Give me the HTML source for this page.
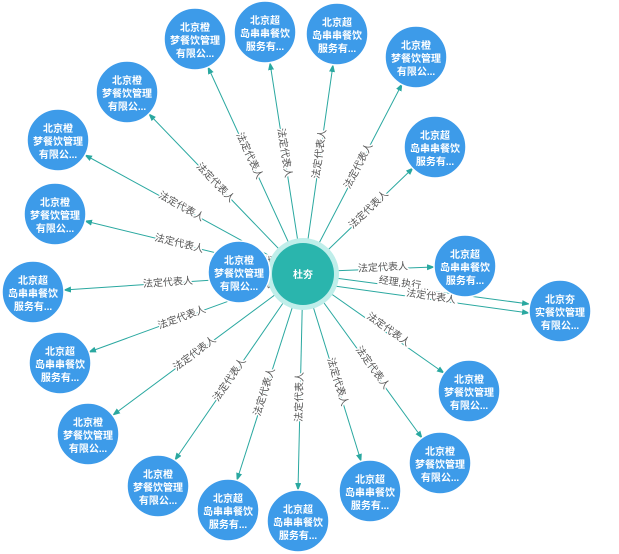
<!DOCTYPE html>
<html><head><meta charset="utf-8"><style>
html,body{margin:0;padding:0;background:#fff;}
svg{display:block;font-family:"Liberation Sans","Noto Sans CJK SC",sans-serif;}
.e{stroke:#2aa8a0;stroke-width:1;fill:none;marker-end:url(#a);}
.l{font-size:10px;fill:#555;text-anchor:middle;dominant-baseline:central;stroke:#fff;stroke-width:3px;paint-order:stroke;}
.n{fill:#3d9be9;stroke:#fff;stroke-width:1.5;}
.t{font-size:10px;fill:#fff;text-anchor:middle;font-weight:bold;}
</style></head><body>
<svg width="619" height="554" viewBox="0 0 619 554">
<defs><marker id="a" markerWidth="8" markerHeight="6" refX="7" refY="3" orient="auto" markerUnits="userSpaceOnUse"><path d="M0,0 L8,3 L0,6 z" fill="#2aa8a0"/></marker></defs>
<g>
<line class="e" x1="303" y1="274" x2="208" y2="67"/>
<line class="e" x1="303" y1="274" x2="270" y2="63"/>
<line class="e" x1="303" y1="274" x2="333" y2="65"/>
<line class="e" x1="303" y1="274" x2="402" y2="84"/>
<line class="e" x1="303" y1="274" x2="149" y2="114"/>
<line class="e" x1="303" y1="274" x2="85" y2="155"/>
<line class="e" x1="303" y1="274" x2="413" y2="168"/>
<line class="e" x1="303" y1="274" x2="85" y2="221"/>
<line class="e" x1="303" y1="272" x2="434" y2="267"/>
<line class="e" x1="303" y1="274" x2="64" y2="290"/>
<line class="e" x1="320" y1="276" x2="529" y2="304"/>
<line class="e" x1="320" y1="284" x2="529" y2="313"/>
<line class="e" x1="303" y1="274" x2="89" y2="352"/>
<line class="e" x1="303" y1="274" x2="444" y2="373"/>
<line class="e" x1="303" y1="274" x2="113" y2="415"/>
<line class="e" x1="303" y1="274" x2="422" y2="438"/>
<line class="e" x1="303" y1="274" x2="175" y2="460"/>
<line class="e" x1="303" y1="274" x2="361" y2="461"/>
<line class="e" x1="303" y1="274" x2="237" y2="480"/>
<line class="e" x1="303" y1="274" x2="298" y2="490"/>
</g>
<g>
<text class="l" transform="translate(249,156) rotate(65.3)">法定代表人</text>
<text class="l" transform="translate(284,153) rotate(81.1)">法定代表人</text>
<text class="l" transform="translate(320,154) rotate(-81.9)">法定代表人</text>
<text class="l" transform="translate(359,166) rotate(-62.5)">法定代表人</text>
<text class="l" transform="translate(215,183) rotate(46)">法定代表人</text>
<text class="l" transform="translate(181,207) rotate(28.7)">法定代表人</text>
<text class="l" transform="translate(369,210) rotate(-43.9)">法定代表人</text>
<text class="l" transform="translate(179,244) rotate(13.6)">法定代表人</text>
<text class="l" transform="translate(383,268) rotate(-2.8)">法定代表人</text>
<text class="l" transform="translate(168,283) rotate(-3.8)">法定代表人</text>
<text class="l" transform="translate(404,284) rotate(8.2)">经理,执行...</text>
<text class="l" transform="translate(431,297) rotate(8.2)">法定代表人</text>
<text class="l" transform="translate(182,318) rotate(-20.1)">法定代表人</text>
<text class="l" transform="translate(388,330) rotate(35.2)">法定代表人</text>
<text class="l" transform="translate(195,354) rotate(-36.7)">法定代表人</text>
<text class="l" transform="translate(372,368) rotate(54.1)">法定代表人</text>
<text class="l" transform="translate(230,380) rotate(-55.6)">法定代表人</text>
<text class="l" transform="translate(337,382) rotate(72.8)">法定代表人</text>
<text class="l" transform="translate(265,392) rotate(-72.4)">法定代表人</text>
<text class="l" transform="translate(300,397) rotate(-88.8)">法定代表人</text>
<text class="l" transform="translate(268,262)">代</text>
<text class="l" transform="translate(270,285)">执行</text>
</g>
<g>
<circle cx="303" cy="274" r="36" fill="#bfeeea"/>
<circle cx="303" cy="274" r="31" fill="#2ab5ad"/>
<text class="t" x="303" y="278">杜夯</text>
</g>
<g>
<g transform="translate(195,39)"><circle class="n" r="31"/><text class="t" y="-8">北京橙</text><text class="t" y="5">梦餐饮管理</text><text class="t" y="18">有限公...</text></g>
<g transform="translate(265,32)"><circle class="n" r="31"/><text class="t" y="-8">北京超</text><text class="t" y="5">岛串串餐饮</text><text class="t" y="18">服务有...</text></g>
<g transform="translate(337,34)"><circle class="n" r="31"/><text class="t" y="-8">北京超</text><text class="t" y="5">岛串串餐饮</text><text class="t" y="18">服务有...</text></g>
<g transform="translate(416,57)"><circle class="n" r="31"/><text class="t" y="-8">北京橙</text><text class="t" y="5">梦餐饮管理</text><text class="t" y="18">有限公...</text></g>
<g transform="translate(127,92)"><circle class="n" r="31"/><text class="t" y="-8">北京橙</text><text class="t" y="5">梦餐饮管理</text><text class="t" y="18">有限公...</text></g>
<g transform="translate(58,140)"><circle class="n" r="31"/><text class="t" y="-8">北京橙</text><text class="t" y="5">梦餐饮管理</text><text class="t" y="18">有限公...</text></g>
<g transform="translate(435,147)"><circle class="n" r="31"/><text class="t" y="-8">北京超</text><text class="t" y="5">岛串串餐饮</text><text class="t" y="18">服务有...</text></g>
<g transform="translate(55,214)"><circle class="n" r="31"/><text class="t" y="-8">北京橙</text><text class="t" y="5">梦餐饮管理</text><text class="t" y="18">有限公...</text></g>
<g transform="translate(239,272)"><circle class="n" r="31"/><text class="t" y="-8">北京橙</text><text class="t" y="5">梦餐饮管理</text><text class="t" y="18">有限公...</text></g>
<g transform="translate(465,266)"><circle class="n" r="31"/><text class="t" y="-8">北京超</text><text class="t" y="5">岛串串餐饮</text><text class="t" y="18">服务有...</text></g>
<g transform="translate(33,292)"><circle class="n" r="31"/><text class="t" y="-8">北京超</text><text class="t" y="5">岛串串餐饮</text><text class="t" y="18">服务有...</text></g>
<g transform="translate(560,311)"><circle class="n" r="31"/><text class="t" y="-8">北京夯</text><text class="t" y="5">实餐饮管理</text><text class="t" y="18">有限公...</text></g>
<g transform="translate(60,363)"><circle class="n" r="31"/><text class="t" y="-8">北京超</text><text class="t" y="5">岛串串餐饮</text><text class="t" y="18">服务有...</text></g>
<g transform="translate(469,391)"><circle class="n" r="31"/><text class="t" y="-8">北京橙</text><text class="t" y="5">梦餐饮管理</text><text class="t" y="18">有限公...</text></g>
<g transform="translate(88,434)"><circle class="n" r="31"/><text class="t" y="-8">北京橙</text><text class="t" y="5">梦餐饮管理</text><text class="t" y="18">有限公...</text></g>
<g transform="translate(440,463)"><circle class="n" r="31"/><text class="t" y="-8">北京橙</text><text class="t" y="5">梦餐饮管理</text><text class="t" y="18">有限公...</text></g>
<g transform="translate(158,486)"><circle class="n" r="31"/><text class="t" y="-8">北京橙</text><text class="t" y="5">梦餐饮管理</text><text class="t" y="18">有限公...</text></g>
<g transform="translate(370,491)"><circle class="n" r="31"/><text class="t" y="-8">北京超</text><text class="t" y="5">岛串串餐饮</text><text class="t" y="18">服务有...</text></g>
<g transform="translate(228,510)"><circle class="n" r="31"/><text class="t" y="-8">北京超</text><text class="t" y="5">岛串串餐饮</text><text class="t" y="18">服务有...</text></g>
<g transform="translate(298,521)"><circle class="n" r="31"/><text class="t" y="-8">北京超</text><text class="t" y="5">岛串串餐饮</text><text class="t" y="18">服务有...</text></g>
</g>
</svg>
</body></html>
